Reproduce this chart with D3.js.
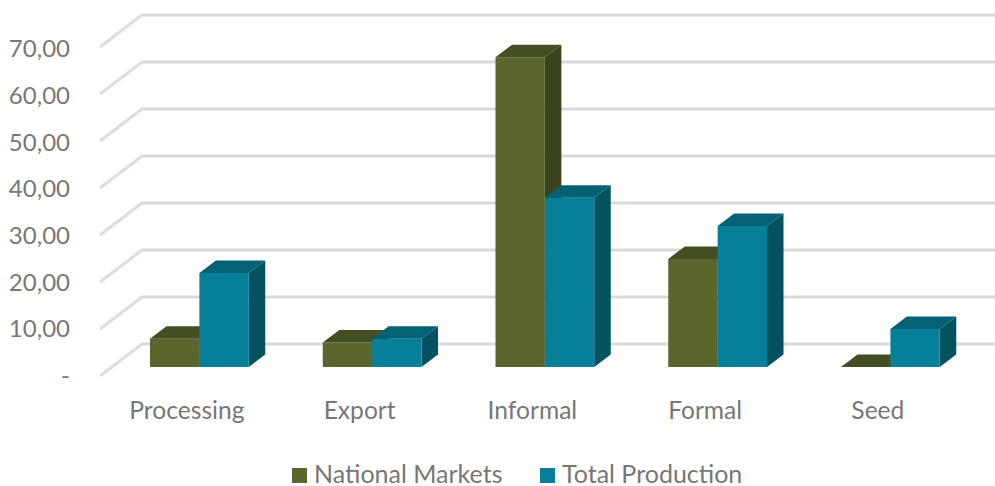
<!DOCTYPE html>
<html>
<head>
<meta charset="utf-8">
<script src="https://cdn.jsdelivr.net/npm/d3@7/dist/d3.min.js"></script>
<style>
  html, body { margin: 0; padding: 0; background: #fff; }
  svg { display: block; }
  text { font-family: Lato, "Open Sans", sans-serif; fill: #777; }
</style>
</head>
<body>
<svg id="chart" width="995" height="486"></svg>
<script>
// Source values
const categories = ["Processing", "Export", "Informal", "Formal", "Seed"];
const seriesNames = ["National Markets", "Total Production"];
const nationalMarkets = [6.0, 5.2, 65.9, 23.0, 0];
const totalProduction = [20.0, 6.0, 36.0, 30.0, 8.1];
const yTicks = [0, 10, 20, 30, 40, 50, 60, 70];

const palette = [
  { front: "#5b662f", top: "#444e23", side: "#3a431f" },
  { front: "#068099", top: "#056274", side: "#045260" }
];

const width = 995, height = 486;
const svg = d3.select("#chart");

// Oblique projection: how far the depth axis shifts things
const floorDepth = { dx: 42, dy: -32 };   // front of floor to back wall
const barDepth = { dx: 16.5, dy: -12.5 }; // extruded thickness of a bar
const axisFont = 24, categoryFont = 24.6, legendFont = 25;

const frontBase = 376;  // y of value 0 on the front edge of the floor
const barBase = 367;    // y of value 0 on the bar's front face
const unit = 47 / 10;   // pixels per unit of value

const yFront = d3.scaleLinear().domain([0, 70]).range([frontBase, frontBase - 70 * unit]);
const yBar = d3.scaleLinear().domain([0, 70]).range([barBase, barBase - 70 * unit]);
const yLabel = d3.scaleLinear().domain([0, 70]).range([376, 376 - 70 * 4.67]);

const step = 172.75;
const x0 = d3.scaleBand().domain(categories).range([113, 113 + 5 * step])
  .paddingInner(74 / step).paddingOuter(37 / step);
const x1 = d3.scaleBand().domain(seriesNames).range([0, x0.bandwidth()]);

// Wall and floor gridlines
const grid = svg.append("g").attr("fill", "none").attr("stroke-linejoin", "round");
const gridPoints = v => {
  const fx = 100, fy = yFront(v);
  const bx = fx + floorDepth.dx, by = fy + floorDepth.dy;
  return [[fx, fy], [bx, by], [width, by]];
};
const gridLine = d3.line();
[{ w: 4, c: "#ececec" }, { w: 2, c: "#d9d9d9" }].forEach(s => {
  grid.append("g").selectAll("path").data(yTicks).join("path")
    .attr("d", d => gridLine(gridPoints(d)))
    .attr("stroke", s.c).attr("stroke-width", s.w);
});

// Value axis labels, using a comma decimal and a dash for zero
const locale = d3.formatLocale({ decimal: ",", thousands: ".", grouping: [3], currency: ["", ""] });
const fmt = locale.format(".2f");
const yAxis = d3.axisLeft(yLabel).tickValues(yTicks).tickSize(0).tickPadding(0)
  .tickFormat(v => v === 0 ? "-" : fmt(v));
const yG = svg.append("g").attr("transform", "translate(70,0)").call(yAxis);
yG.select(".domain").remove();
yG.selectAll("text").attr("font-size", axisFont).attr("fill", null);
yG.attr("font-family", null);

// Bars: both series, back to front, so the second overlaps the first's side
const bars = [nationalMarkets, totalProduction];
bars.forEach((values, si) => {
  const g = svg.append("g");
  const colors = palette[si];
  categories.forEach((cat, i) => {
    const v = values[i];
    const l = x0(cat) + x1(seriesNames[si]);
    const r = l + x1.bandwidth();
    const t = yBar(v), b = yBar(0);
    const { dx, dy } = barDepth;
    const poly = (pts, fill) => g.append("polygon")
      .attr("points", pts.map(p => p.join(",")).join(" "))
      .attr("fill", fill);
    if (v > 0) {
      poly([[r, t], [r + dx, t + dy], [r + dx, b + dy], [r, b]], colors.side);
      poly([[l, t], [r, t], [r, b], [l, b]], colors.front);
    }
    poly([[l, t], [l + dx, t + dy], [r + dx, t + dy], [r, t]], colors.top);
  });
});

// Category labels
svg.append("g").selectAll("text").data(categories).join("text")
  .attr("x", d => x0(d) + x0.bandwidth() / 2 - 12.5)
  .attr("y", 419)
  .attr("text-anchor", "middle")
  .attr("font-size", categoryFont)
  .text(d => d);

// Legend
const legendX = [292, 540];
const legend = svg.append("g").selectAll("g").data(seriesNames).join("g")
  .attr("transform", (d, i) => `translate(${legendX[i]},468)`);
legend.append("rect").attr("width", 15).attr("height", 15)
  .attr("fill", (d, i) => palette[i].front);
legend.append("text").attr("x", 22).attr("y", 15)
  .attr("font-size", legendFont).text(d => d);
</script>
</body>
</html>
